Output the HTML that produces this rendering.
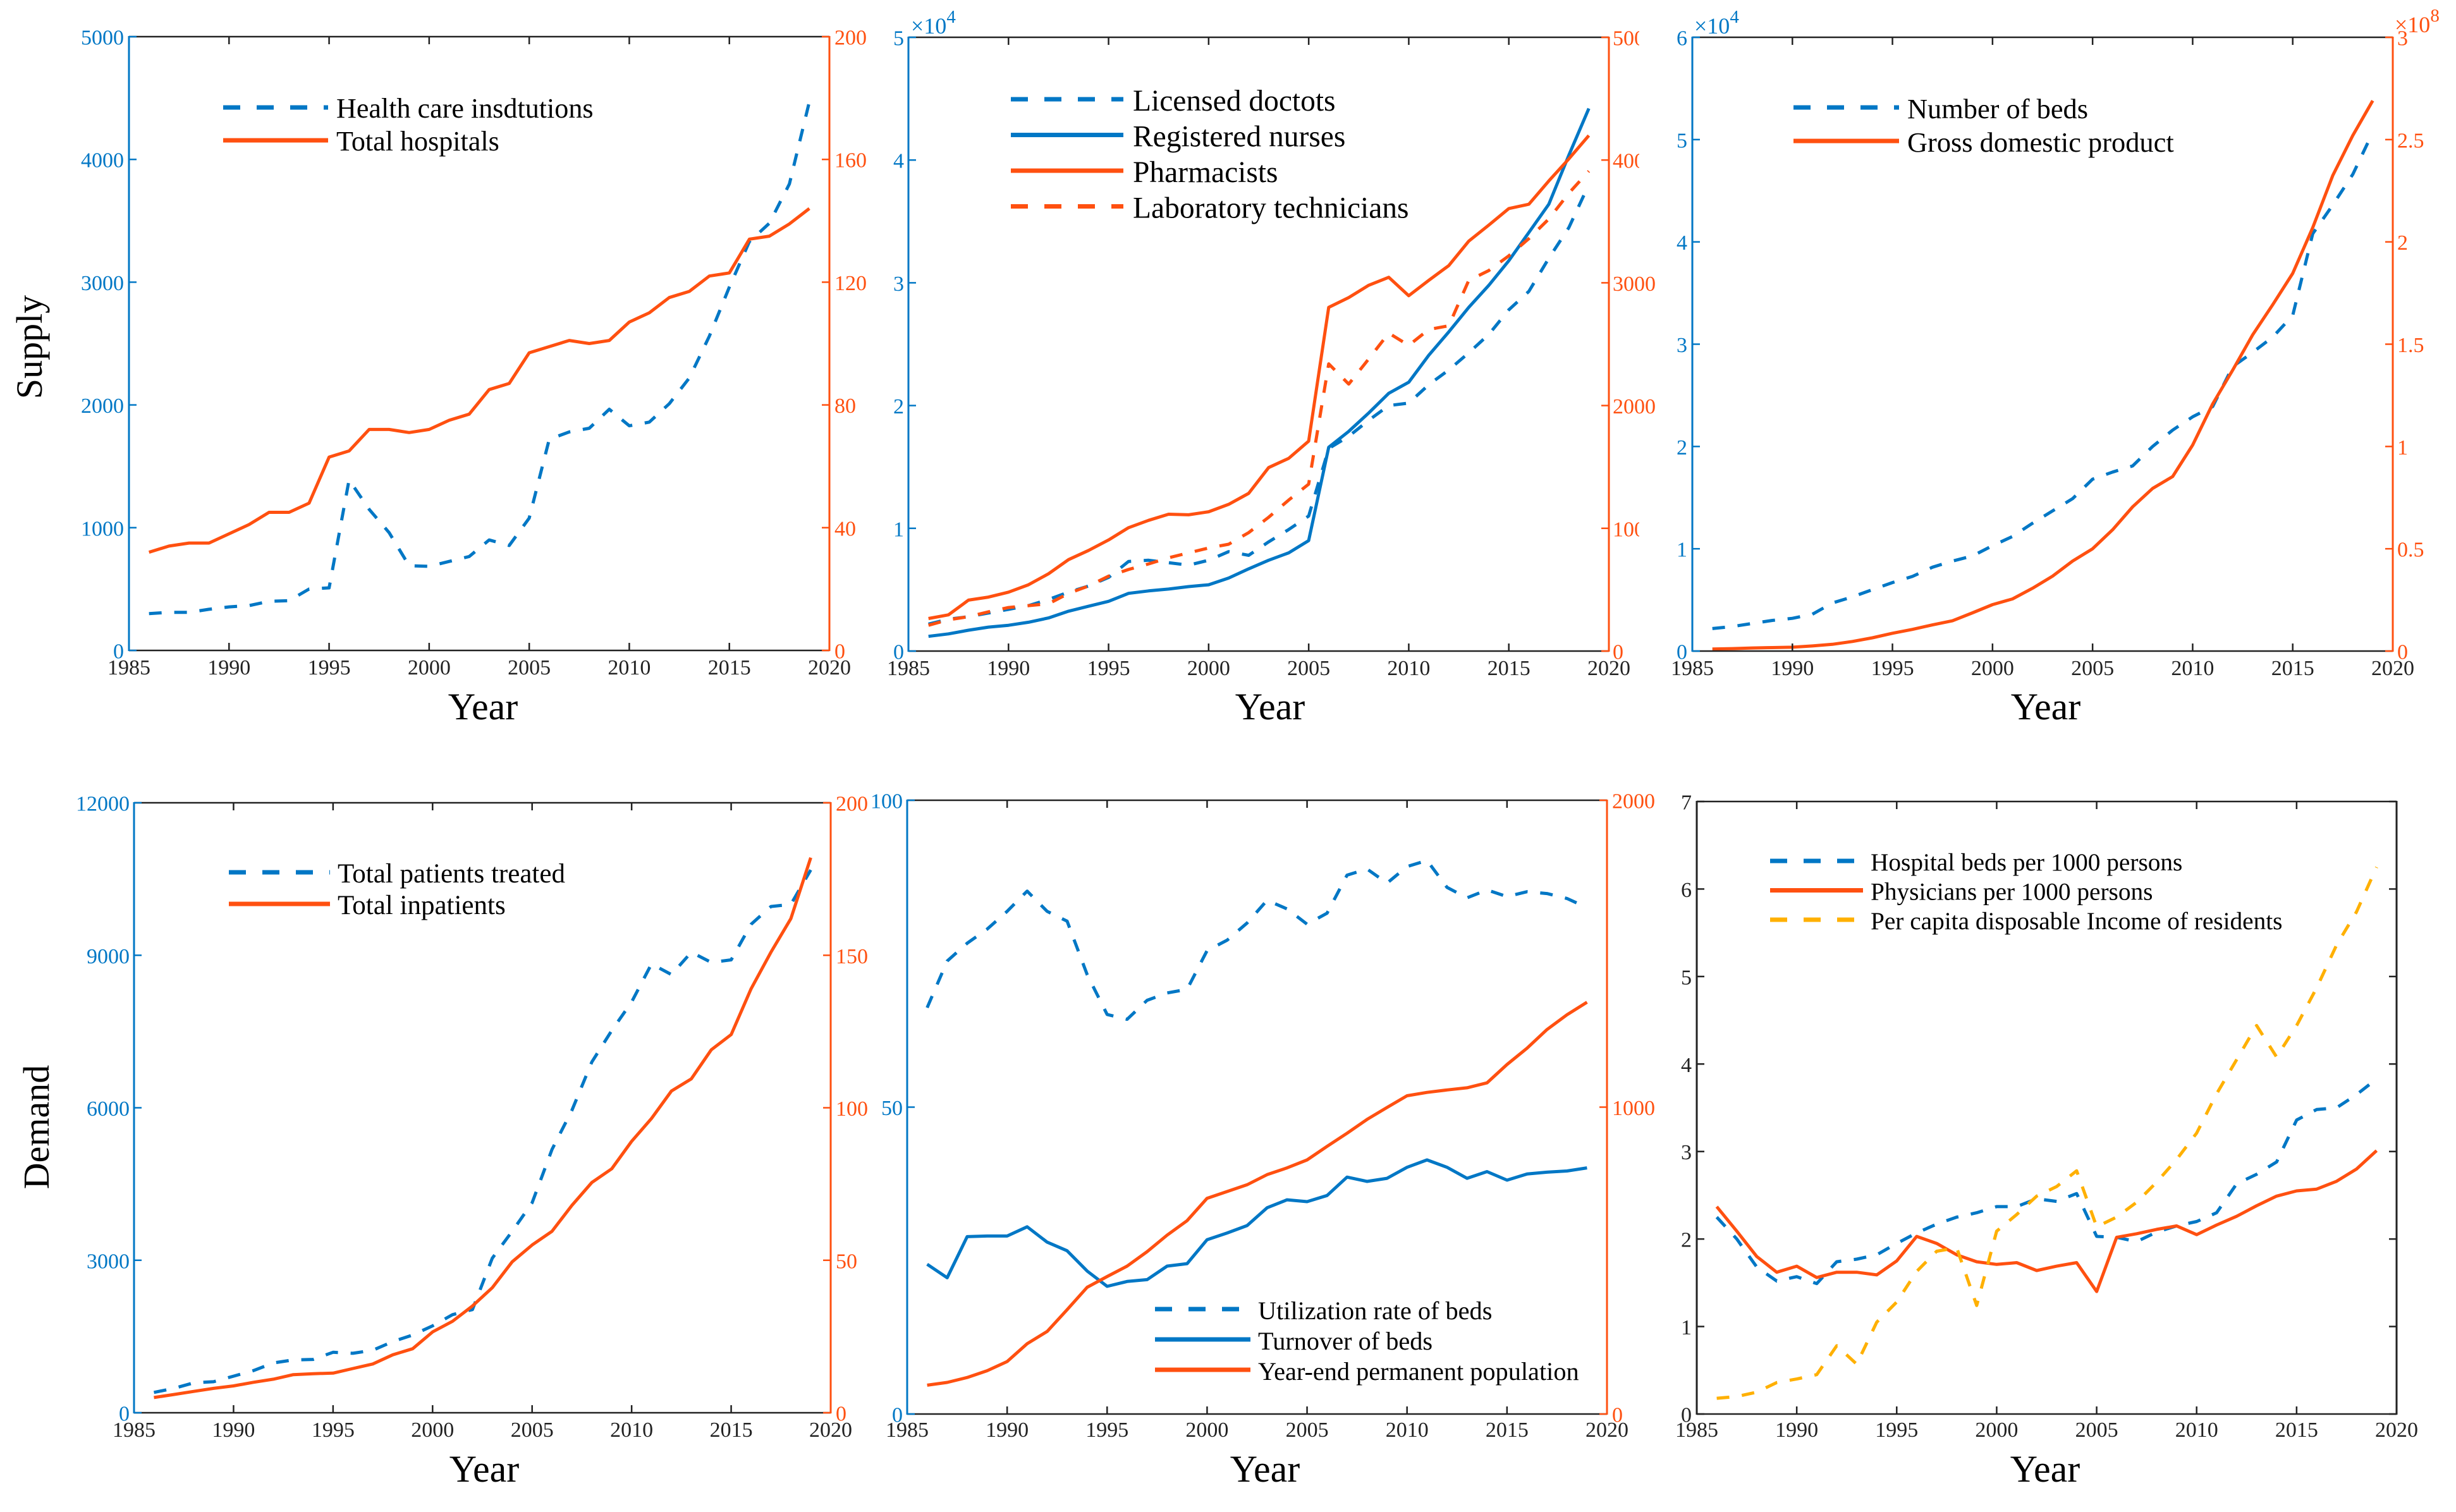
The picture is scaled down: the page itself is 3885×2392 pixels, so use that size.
<!DOCTYPE html>
<html lang="en">
<head>
<meta charset="utf-8">
<title>Supply and demand panels, 1986-2019</title>
<style>
html,body{margin:0;padding:0;background:#fff;}
svg{display:block;}
text{font-family:"Liberation Serif",serif;}
</style>
</head>
<body>
<svg id="figure" xmlns="http://www.w3.org/2000/svg" width="3885" height="2392" viewBox="0 0 3885 2392">
<rect x="0" y="0" width="3885" height="2392" fill="#ffffff"></rect>
<text x="0" y="0" transform="translate(66,549) rotate(-90)" text-anchor="middle" font-size="58" fill="#000">Supply</text>
<text x="0" y="0" transform="translate(77,1783) rotate(-90)" text-anchor="middle" font-size="58" fill="#000">Demand</text>
<defs><clipPath id="clip-doctors-right"><rect x="2400" y="0" width="193" height="1200"></rect></clipPath></defs>
</svg>
<script>
const years = [1986,1987,1988,1989,1990,1991,1992,1993,1994,1995,1996,1997,1998,1999,2000,2001,2002,2003,2004,2005,2006,2007,2008,2009,2010,2011,2012,2013,2014,2015,2016,2017,2018,2019];
const xTickLabels = [1985,1990,1995,2000,2005,2010,2015,2020];

const healthCareInstitutions = [300,310,310,335,355,365,400,405,500,510,1390,1150,960,690,685,725,765,900,855,1078,1720,1780,1810,1965,1830,1860,2010,2220,2560,2960,3330,3480,3800,4470];
const totalHospitals = [32,34,35,35,38,41,45,45,48,63,65,72,72,71,72,75,77,85,87,97,99,101,100,101,107,110,115,117,122,123,134,135,139,144];
const institutionTicks = [0,1000,2000,3000,4000,5000];
const hospitalTicks = [0,40,80,120,160,200];

const licensedDoctors = [0.22,0.26,0.28,0.31,0.34,0.37,0.42,0.48,0.53,0.60,0.73,0.74,0.72,0.70,0.74,0.81,0.78,0.89,0.99,1.10,1.65,1.75,1.88,2.00,2.02,2.17,2.29,2.43,2.58,2.78,2.93,3.20,3.45,3.80];
const registeredNurses = [0.12,0.14,0.17,0.195,0.21,0.235,0.27,0.325,0.365,0.405,0.47,0.49,0.505,0.525,0.54,0.595,0.67,0.74,0.80,0.90,1.66,1.79,1.94,2.10,2.19,2.41,2.60,2.80,2.98,3.18,3.41,3.64,4.04,4.42];
const pharmacists = [265,295,415,440,480,540,630,745,820,905,1005,1065,1115,1110,1135,1195,1285,1495,1570,1710,2800,2880,2980,3045,2895,3020,3140,3340,3470,3605,3640,3830,4010,4200];
const laboratoryTechnicians = [210,255,280,320,355,370,385,470,530,610,665,710,760,800,840,870,965,1090,1230,1360,2340,2175,2380,2590,2490,2620,2650,3020,3100,3220,3360,3520,3730,3910];
const doctorTicks = [0,1,2,3,4,5];
const technicianTicks = [0,1000,2000,3000,4000,5000];
const clippedTechnicianLabels = [1000,4000,5000];

const numberOfBeds = [0.22,0.24,0.27,0.30,0.32,0.36,0.47,0.53,0.60,0.67,0.73,0.82,0.88,0.93,1.03,1.12,1.25,1.37,1.49,1.68,1.75,1.81,2.00,2.16,2.29,2.39,2.78,2.92,3.07,3.28,4.08,4.36,4.66,5.07];
const grossDomesticProduct = [0.01,0.012,0.015,0.017,0.019,0.025,0.033,0.047,0.065,0.087,0.106,0.128,0.148,0.187,0.227,0.255,0.307,0.366,0.44,0.50,0.593,0.705,0.795,0.853,1.007,1.208,1.373,1.546,1.693,1.846,2.07,2.324,2.52,2.69];
const bedTicks = [0,1,2,3,4,5,6];
const gdpTicks = [0,0.5,1,1.5,2,2.5,3];

const totalPatientsTreated = [400,480,590,610,720,830,980,1040,1050,1190,1170,1230,1400,1530,1710,1930,2030,3040,3570,4130,5180,5950,6900,7520,8080,8830,8620,9060,8860,8910,9610,9960,10000,10680];
const totalInpatients = [5,6,7,8,8.8,10,11,12.5,12.8,13,14.5,16,19,21,26.5,30,35,41,49.5,55,59.5,68,75.5,80,89,96.5,105.5,109.5,119,124,139,151,162,182];
const patientTicks = [0,3000,6000,9000,12000];
const inpatientTicks = [0,50,100,150,200];

const utilizationRate = [66.2,73.8,76.7,79,81.9,85.2,81.9,80.3,71.6,65.1,64.3,67.4,68.6,69.2,75.5,77.2,80,83.7,82.3,79.8,81.6,87.8,88.8,86.5,89.2,90.2,85.8,84.1,85.4,84.3,85.1,84.8,84,82.5];
const turnoverOfBeds = [24.4,22.2,28.9,29,29,30.5,28,26.6,23.3,20.8,21.6,21.9,24.1,24.5,28.4,29.5,30.7,33.6,34.9,34.6,35.6,38.6,37.9,38.4,40.2,41.4,40.2,38.4,39.5,38.1,39.1,39.4,39.6,40.1];
const permanentPopulation = [94,103,119,141,171,229,269,340,413,448,482,529,583,630,703,725,747,780,802,828,872,915,960,999,1037,1048,1056,1063,1079,1139,1192,1253,1301,1342];
const utilizationTicks = [0,50,100];
const populationTicks = [0,1000,2000];

const hospitalBedsPer1000 = [2.25,2.0,1.68,1.52,1.57,1.49,1.74,1.77,1.82,1.95,2.07,2.17,2.25,2.30,2.37,2.37,2.46,2.43,2.52,2.03,2.02,1.97,2.08,2.15,2.20,2.30,2.63,2.74,2.88,3.36,3.48,3.50,3.65,3.83];
const physiciansPer1000 = [2.37,2.09,1.80,1.62,1.69,1.56,1.62,1.62,1.59,1.75,2.03,1.95,1.82,1.74,1.71,1.73,1.64,1.69,1.73,1.40,2.02,2.06,2.11,2.15,2.05,2.16,2.26,2.38,2.49,2.55,2.57,2.66,2.80,3.01];
const disposableIncome = [0.18,0.20,0.25,0.36,0.40,0.45,0.78,0.57,1.05,1.28,1.63,1.86,1.90,1.24,2.09,2.28,2.49,2.60,2.78,2.14,2.25,2.42,2.65,2.91,3.21,3.66,4.05,4.44,4.08,4.44,4.87,5.36,5.74,6.25];
const perPersonTicks = [0,1,2,3,4,5,6,7];

const BLUE = '#0077c5';
const ORANGE = '#ff5010';
const AMBER = '#ffb000';
const DARK = '#222222';
const TICK_FONT = 34;
const SVGNS = 'http://www.w3.org/2000/svg';
const figure = document.getElementById('figure');

function makeNode(parent, tag, name) {
  const el = document.createElementNS(SVGNS, tag);
  
  
  parent.appendChild(el);
  return el;
}

function drawSegment(parent, name, x1, y1, x2, y2, color, width) {
  const el = makeNode(parent, 'line', name);
  el.setAttribute('x1', x1);
  el.setAttribute('y1', y1);
  el.setAttribute('x2', x2);
  el.setAttribute('y2', y2);
  el.setAttribute('stroke', color);
  el.setAttribute('stroke-width', width);
  return el;
}

function drawText(parent, name, content, x, y, size, color, anchor) {
  const el = makeNode(parent, 'text', name);
  el.setAttribute('x', x);
  el.setAttribute('y', y);
  el.setAttribute('font-size', size);
  el.setAttribute('fill', color);
  el.setAttribute('text-anchor', anchor || 'start');
  el.textContent = content;
  return el;
}

function linearScale(domainMin, domainMax, rangeMin, rangeMax) {
  return function (value) {
    return rangeMin + (value - domainMin) / (domainMax - domainMin) * (rangeMax - rangeMin);
  };
}

function drawExponent(parent, name, x, y, power, color) {
  const el = drawText(parent, name, '\u00d710', x, y, 36, color);
  const sup = document.createElementNS(SVGNS, 'tspan');
  sup.setAttribute('dy', '-17');
  sup.setAttribute('font-size', '29');
  sup.textContent = power;
  el.appendChild(sup);
}

const panels = [
  {
    key: 'institutions', left: 204, right: 1312, top: 58, bottom: 1029,
    tickLabelY: 1067, yearX: 764, yearY: 1138,
    leftLabelX: 196, rightLabelX: 1320,
    leftColor: BLUE, rightColor: ORANGE,
    leftTicks: institutionTicks, rightTicks: hospitalTicks,
    series: [
      {name: 'Health care insdtutions', values: healthCareInstitutions, axis: 'left', color: BLUE, dashed: true},
      {name: 'Total hospitals', values: totalHospitals, axis: 'right', color: ORANGE, dashed: false}
    ],
    legend: {x0: 353, x1: 519, textX: 532, y0: 170, dy: 52, size: 44.1, lift: 16}
  },
  {
    key: 'workforce', left: 1437, right: 2545, top: 59, bottom: 1030,
    tickLabelY: 1068, yearX: 2009, yearY: 1138,
    leftLabelX: 1430, rightLabelX: 2551,
    leftColor: BLUE, rightColor: ORANGE,
    leftTicks: doctorTicks, rightTicks: technicianTicks,
    rightClip: 'clip-doctors-right',
    rightClippedLabels: clippedTechnicianLabels,
    leftExponent: {x: 1441, y: 53, power: '4'},
    series: [
      {name: 'Licensed doctots', values: licensedDoctors, axis: 'left', color: BLUE, dashed: true},
      {name: 'Registered nurses', values: registeredNurses, axis: 'left', color: BLUE, dashed: false},
      {name: 'Pharmacists', values: pharmacists, axis: 'right', color: ORANGE, dashed: false},
      {name: 'Laboratory technicians', values: laboratoryTechnicians, axis: 'right', color: ORANGE, dashed: true}
    ],
    legend: {x0: 1599, x1: 1777, textX: 1792, y0: 157, dy: 56.5, size: 47.5, lift: 18}
  },
  {
    key: 'beds-gdp', left: 2677, right: 3785, top: 59, bottom: 1030,
    tickLabelY: 1068, yearX: 3236, yearY: 1138,
    leftLabelX: 2669, rightLabelX: 3792,
    leftColor: BLUE, rightColor: ORANGE,
    leftTicks: bedTicks, rightTicks: gdpTicks,
    leftExponent: {x: 2680, y: 53, power: '4'},
    rightExponent: {x: 3788, y: 51, power: '8'},
    series: [
      {name: 'Number of beds', values: numberOfBeds, axis: 'left', color: BLUE, dashed: true},
      {name: 'Gross domestic product', values: grossDomesticProduct, axis: 'right', color: ORANGE, dashed: false}
    ],
    legend: {x0: 2837, x1: 3004, textX: 3017, y0: 170, dy: 53, size: 44.4, lift: 17}
  },
  {
    key: 'patients', left: 212, right: 1314, top: 1270, bottom: 2235,
    tickLabelY: 2273, yearX: 766, yearY: 2344,
    leftLabelX: 205, rightLabelX: 1322,
    leftColor: BLUE, rightColor: ORANGE,
    leftTicks: patientTicks, rightTicks: inpatientTicks,
    series: [
      {name: 'Total patients treated', values: totalPatientsTreated, axis: 'left', color: BLUE, dashed: true},
      {name: 'Total inpatients', values: totalInpatients, axis: 'right', color: ORANGE, dashed: false}
    ],
    legend: {x0: 362, x1: 522, textX: 534, y0: 1380, dy: 50, size: 43, lift: 16}
  },
  {
    key: 'utilization', left: 1435, right: 2542, top: 1266, bottom: 2237,
    tickLabelY: 2273, yearX: 2001, yearY: 2344,
    leftLabelX: 1428, rightLabelX: 2550,
    leftColor: BLUE, rightColor: ORANGE,
    leftTicks: utilizationTicks, rightTicks: populationTicks,
    series: [
      {name: 'Utilization rate of beds', values: utilizationRate, axis: 'left', color: BLUE, dashed: true},
      {name: 'Turnover of beds', values: turnoverOfBeds, axis: 'left', color: BLUE, dashed: false},
      {name: 'Year-end permanent population', values: permanentPopulation, axis: 'right', color: ORANGE, dashed: false}
    ],
    legend: {x0: 1827, x1: 1978, textX: 1990, y0: 2071, dy: 48, size: 40.3, lift: 16}
  },
  {
    key: 'per-person', left: 2684, right: 3791, top: 1268, bottom: 2237,
    tickLabelY: 2273, yearX: 3235, yearY: 2344,
    leftLabelX: 2676, rightLabelX: null,
    leftColor: DARK, rightColor: DARK,
    leftTicks: perPersonTicks, rightTicks: perPersonTicks,
    series: [
      {name: 'Hospital beds per 1000 persons', values: hospitalBedsPer1000, axis: 'left', color: BLUE, dashed: true},
      {name: 'Physicians per 1000 persons', values: physiciansPer1000, axis: 'left', color: ORANGE, dashed: false},
      {name: 'Per capita disposable Income of residents', values: disposableIncome, axis: 'left', color: AMBER, dashed: true}
    ],
    legend: {x0: 2800, x1: 2947, textX: 2959, y0: 1362, dy: 46.5, size: 39.3, lift: 15}
  }
];

function slug(text) {
  return text.toLowerCase().replace(/[^a-z0-9]+/g, '-');
}

function drawPanel(panel) {
  const group = makeNode(figure, 'g', 'panel-' + panel.key);
  const xScale = linearScale(1985, 2020, panel.left, panel.right);
  const leftTop = panel.leftTicks[panel.leftTicks.length - 1];
  const rightTop = panel.rightTicks[panel.rightTicks.length - 1];
  const leftScale = linearScale(0, leftTop, panel.bottom, panel.top);
  const rightScale = linearScale(0, rightTop, panel.bottom, panel.top);
  const TICK = 12;

  panel.series.forEach(function (series) {
    const yScale = series.axis === 'left' ? leftScale : rightScale;
    const points = years.map(function (year, i) {
      return xScale(year).toFixed(1) + ',' + yScale(series.values[i]).toFixed(1);
    }).join(' ');
    const line = makeNode(group, 'polyline', 'series-' + slug(series.name));
    line.setAttribute('points', points);
    line.setAttribute('fill', 'none');
    line.setAttribute('stroke', series.color);
    line.setAttribute('stroke-width', '5');
    line.setAttribute('stroke-linejoin', 'round');
    if (series.dashed) line.setAttribute('stroke-dasharray', '20 20');
  });

  drawSegment(group, 'top-axis-line', panel.left, panel.top, panel.right, panel.top, DARK, 2.5);
  drawSegment(group, 'bottom-axis-line', panel.left, panel.bottom, panel.right, panel.bottom, DARK, 2.5);
  drawSegment(group, 'left-axis-line', panel.left, panel.top - 1, panel.left, panel.bottom + 1, panel.leftColor, 3);
  drawSegment(group, 'right-axis-line', panel.right, panel.top - 1, panel.right, panel.bottom + 1, panel.rightColor, 3);

  xTickLabels.forEach(function (year) {
    const x = xScale(year);
    if (year !== 1985 && year !== 2020) {
      drawSegment(group, 'x-tick-bottom-' + year, x, panel.bottom, x, panel.bottom - TICK, DARK, 2.5);
      drawSegment(group, 'x-tick-top-' + year, x, panel.top, x, panel.top + TICK, DARK, 2.5);
    }
    drawText(group, 'x-tick-label-' + year, String(year), x, panel.tickLabelY, TICK_FONT, DARK, 'middle');
  });

  panel.leftTicks.forEach(function (tick) {
    const y = leftScale(tick);
    drawSegment(group, 'left-tick-' + tick, panel.left, y, panel.left + TICK, y, panel.leftColor, 2.5);
    drawText(group, 'left-tick-label-' + tick, String(tick), panel.leftLabelX, y + 12.5, TICK_FONT, panel.leftColor === DARK ? DARK : BLUE, 'end');
  });

  const rightHolder = makeNode(group, 'g', 'right-axis-ticks');
  panel.rightTicks.forEach(function (tick) {
    const y = rightScale(tick);
    drawSegment(rightHolder, 'right-tick-' + tick, panel.right, y, panel.right - TICK, y, panel.rightColor, 2.5);
    if (panel.rightLabelX !== null) {
      const label = drawText(rightHolder, 'right-tick-label-' + tick, String(tick), panel.rightLabelX, y + 12.5, TICK_FONT, ORANGE, 'start');
      if (panel.rightClip && panel.rightClippedLabels.indexOf(tick) !== -1) {
        label.setAttribute('clip-path', 'url(#' + panel.rightClip + ')');
      }
    }
  });

  if (panel.leftExponent) drawExponent(group, 'left-axis-exponent', panel.leftExponent.x, panel.leftExponent.y, panel.leftExponent.power, BLUE);
  if (panel.rightExponent) drawExponent(group, 'right-axis-exponent', panel.rightExponent.x, panel.rightExponent.y, panel.rightExponent.power, ORANGE);

  drawText(group, 'x-axis-title', 'Year', panel.yearX, panel.yearY, 60, '#000000', 'middle');

  const legend = makeNode(group, 'g', 'legend');
  panel.series.forEach(function (series, i) {
    const y = panel.legend.y0 + i * panel.legend.dy;
    const swatch = drawSegment(legend, 'legend-swatch-' + slug(series.name), panel.legend.x0, y, panel.legend.x1, y, series.color, 7);
    if (series.dashed) swatch.setAttribute('stroke-dasharray', '27 26');
    drawText(legend, 'legend-label-' + slug(series.name), series.name, panel.legend.textX, y + panel.legend.lift, panel.legend.size, '#000000');
  });
}

panels.forEach(drawPanel);
</script>
</body>
</html>
